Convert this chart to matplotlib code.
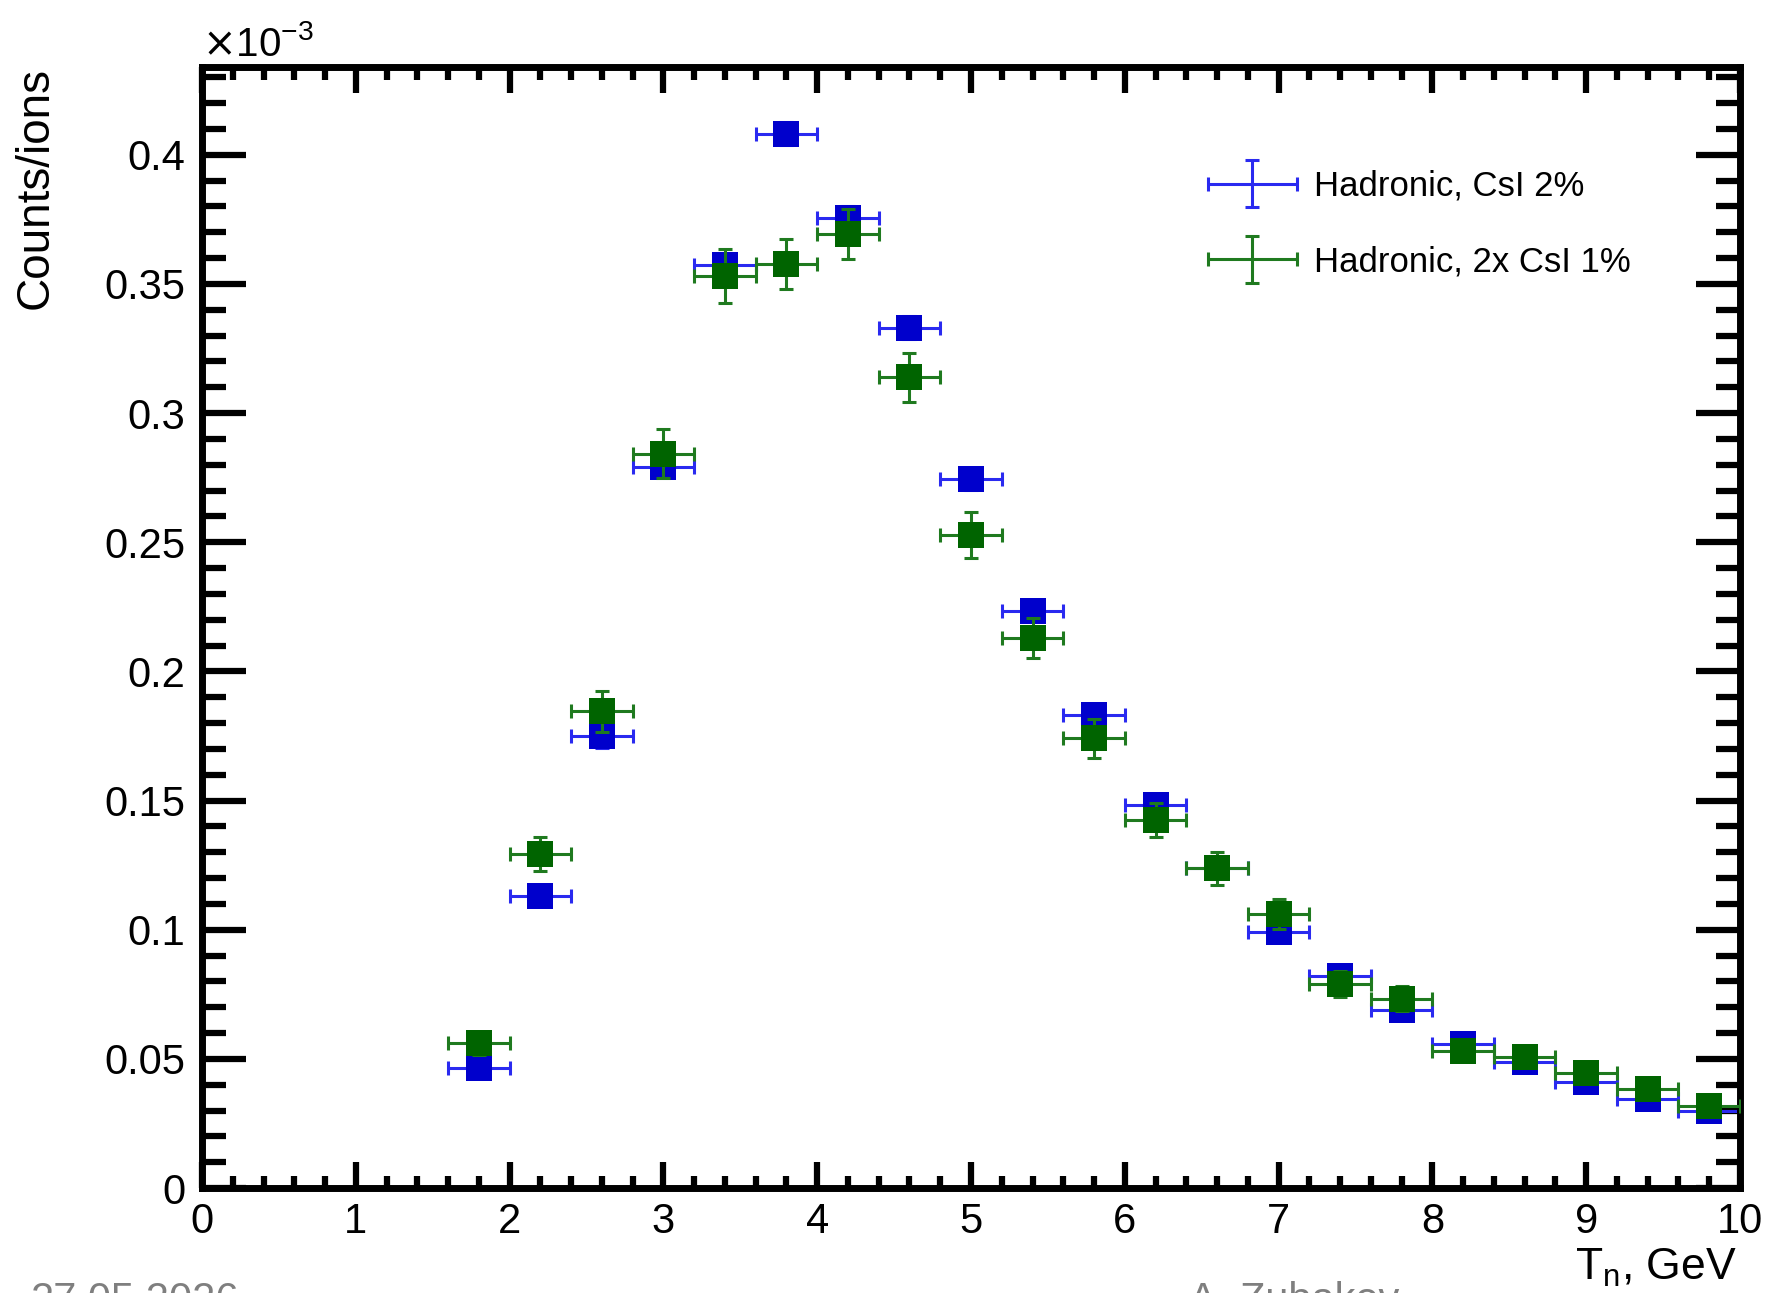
import matplotlib
matplotlib.use("Agg")
import matplotlib.pyplot as plt
from matplotlib.ticker import MultipleLocator, FuncFormatter
from matplotlib.legend_handler import HandlerErrorbar
from matplotlib.container import ErrorbarContainer

plt.rcParams['font.family'] = ['Liberation Sans', 'DejaVu Sans']

## bin centres (GeV) and half widths
tn = [1.8, 2.2, 2.6, 3.0, 3.4, 3.8, 4.2, 4.6, 5.0, 5.4, 5.8,
      6.2, 6.6, 7.0, 7.4, 7.8, 8.2, 8.6, 9.0, 9.4, 9.8]
tn_err = [0.2] * len(tn)

# counts/ions in units of 1e-3
csi_2 = [0.0463, 0.1132, 0.1749, 0.2793, 0.3575, 0.4082, 0.3755, 0.3331, 0.2746, 0.2235, 0.1833,
         0.1484, 0.1237, 0.0993, 0.0821, 0.0690, 0.0558, 0.0487, 0.0410, 0.0345, 0.0300]
csi_2_err = [0.0030, 0.0040, 0.0045, 0.0042, 0.0044, 0.0045, 0.0045, 0.0044, 0.0042, 0.0040, 0.0038,
             0.0036, 0.0034, 0.0032, 0.0030, 0.0028, 0.0026, 0.0025, 0.0024, 0.0022, 0.0020]

csi_2x1 = [0.0560, 0.1294, 0.1845, 0.2842, 0.3530, 0.3578, 0.3694, 0.3138, 0.2530, 0.2129, 0.1741,
           0.1425, 0.1237, 0.1062, 0.0791, 0.0733, 0.0532, 0.0507, 0.0446, 0.0384, 0.0319]
csi_2x1_err = [0.0045, 0.0065, 0.0078, 0.0095, 0.0105, 0.0098, 0.0098, 0.0095, 0.0089, 0.0078, 0.0075,
               0.0066, 0.0063, 0.0058, 0.0050, 0.0048, 0.0042, 0.0040, 0.0038, 0.0035, 0.0032]

labels = ["Hadronic, CsI 2%", "Hadronic, 2x CsI 1%"]

W, H = 1767, 1293
fig = plt.figure(figsize=(W / 100, H / 100), dpi=100)
ax = fig.add_axes([202 / W, 1 - 1188 / H, (1740 - 202) / W, (1188 - 67) / H])

# blue series
eb1 = ax.errorbar(tn, csi_2, xerr=tn_err, yerr=csi_2_err, fmt='none', ecolor='#2a2af0',
                  elinewidth=2.2, capsize=5, capthick=2.2, label=labels[0], zorder=2)
ax.plot(tn, csi_2, 's', color='#0000cc', markersize=19, markeredgewidth=0, zorder=3)
# green series
eb2 = ax.errorbar(tn, csi_2x1, xerr=tn_err, yerr=csi_2x1_err, fmt='none', ecolor='#1f7a1f',
                  elinewidth=2.2, capsize=5, capthick=2.2, label=labels[1], zorder=4)
ax.plot(tn, csi_2x1, 's', color='#006400', markersize=19, markeredgewidth=0, zorder=5)

ax.set_xlim(0, 10)
ax.set_ylim(0, 0.434)

ax.xaxis.set_major_locator(MultipleLocator(1))
ax.xaxis.set_minor_locator(MultipleLocator(0.2))
ax.yaxis.set_major_locator(MultipleLocator(0.05))
ax.yaxis.set_minor_locator(MultipleLocator(0.01))
ax.yaxis.set_major_formatter(FuncFormatter(lambda v, p: '%g' % round(v, 3)))

for s in ax.spines.values():
    s.set_linewidth(5)
ax.tick_params(axis='both', which='both', direction='in', top=True, right=True, width=4.5)
ax.tick_params(axis='x', which='major', length=19, labelsize=30, pad=10)
ax.tick_params(axis='x', which='minor', length=9)
ax.tick_params(axis='y', which='major', length=32, labelsize=30, pad=12)
ax.tick_params(axis='y', which='minor', length=17)

# exponent label
ax.text(0.0, 1.003, r'$\times\mathregular{10^{-3}}$', transform=ax.transAxes,
        ha='left', va='bottom', fontsize=29)

fig.text(0.02, 1 - 67 / H, 'Counts/ions', rotation=90, ha='center', va='top', fontsize=33)
fig.text(1737 / W, 1 - 1280 / H, r'T$_\mathregular{n}$, GeV', ha='right', va='baseline', fontsize=32)

leg = ax.legend(handles=[eb1, eb2], labels=labels, loc='upper left',
                bbox_to_anchor=(1208 / W, 1 - 170 / H), bbox_transform=fig.transFigure,
                frameon=False, fontsize=25, handlelength=2.56, handletextpad=0.5,
                labelspacing=1.22, borderpad=0, borderaxespad=0,
                handler_map={ErrorbarContainer: HandlerErrorbar(xerr_size=1.28, yerr_size=0.68)})

# footer (cut off by the page edge, as in the slide)
fig.text(31 / W, 1 - 1281 / H, '27.05.2026', ha='left', va='top', fontsize=30, color='#7f7f7f')
fig.text(1189 / W, 1 - 1281 / H, 'A. Zubakov', ha='left', va='top', fontsize=30, color='#7f7f7f')

fig.savefig('out.png', dpi=100)
